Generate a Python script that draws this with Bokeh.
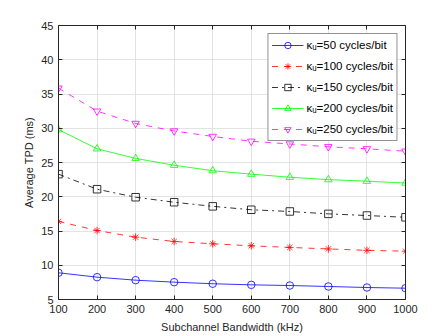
from bokeh.plotting import figure
from bokeh.embed import file_html
from bokeh.resources import INLINE
from bokeh.models import LinearAxis, Legend, LegendItem, FixedTicker, Range1d

bandwidth = [100, 200, 300, 400, 500, 600, 700, 800, 900, 1000]
k50 = [8.9, 8.26, 7.82, 7.53, 7.3, 7.14, 7.04, 6.9, 6.75, 6.65]
k100 = [16.4, 15.07, 14.1, 13.47, 13.13, 12.84, 12.6, 12.38, 12.18, 12.05]
k150 = [23.3, 21.1, 19.93, 19.2, 18.6, 18.1, 17.85, 17.5, 17.26, 17.0]
k200 = [29.8, 27.0, 25.6, 24.6, 23.8, 23.3, 22.85, 22.5, 22.27, 22.0]
k250 = [35.85, 32.5, 30.7, 29.6, 28.8, 28.1, 27.7, 27.3, 27.0, 26.65]
labels = ["κᵤ=50 cycles/bit", "κᵤ=100 cycles/bit", "κᵤ=150 cycles/bit",
          "κᵤ=200 cycles/bit", "κᵤ=250 cycles/bit"]
x_ticks = bandwidth
y_ticks = [5, 10, 15, 20, 25, 30, 35, 40, 45]

FONT = "Liberation Sans"
TXT = "#262626"

p = figure(width=448, height=336, output_backend="svg", toolbar_location=None,
           x_range=Range1d(100, 1000), y_range=Range1d(5, 45),
           min_border_left=58, min_border_right=43, min_border_top=25, min_border_bottom=37)
p.background_fill_color = "white"
p.border_fill_color = "white"
p.outline_line_color = None

p.xaxis.axis_label = "Subchannel Bandwidth (kHz)"
p.yaxis.axis_label = "Average TPD (ms)"
for ax in (p.xaxis[0], p.yaxis[0]):
    ax.axis_label_text_font = FONT
    ax.axis_label_text_font_style = "normal"
    ax.axis_label_text_font_size = "11px"
    ax.axis_label_text_color = TXT
    ax.major_label_text_font = FONT
    ax.major_label_text_font_size = "11px"
    ax.major_label_text_color = TXT
    ax.axis_line_color = TXT
    ax.major_tick_line_color = TXT
    ax.major_tick_in = 4
    ax.major_tick_out = 0
    ax.minor_tick_line_color = None
p.xaxis.ticker = FixedTicker(ticks=x_ticks)
p.yaxis.ticker = FixedTicker(ticks=y_ticks)
p.xaxis.axis_label_standoff = 5
p.yaxis.axis_label_standoff = 3
p.xaxis.major_label_standoff = 5
p.yaxis.major_label_standoff = 5

for loc, tk in (("right", y_ticks), ("above", x_ticks)):
    ax = LinearAxis(ticker=FixedTicker(ticks=tk))
    ax.major_label_text_font_size = "0px"
    ax.major_label_text_color = None
    ax.axis_line_color = TXT
    ax.major_tick_line_color = TXT
    ax.major_tick_in = 4
    ax.major_tick_out = 0
    ax.minor_tick_line_color = None
    ax.major_label_standoff = 0
    p.add_layout(ax, loc)

p.xgrid.ticker = FixedTicker(ticks=x_ticks)
p.ygrid.ticker = FixedTicker(ticks=y_ticks)
p.grid.grid_line_color = "#dcdcdc"
p.grid.grid_line_alpha = 0.8

items = []
specs = [
    (k50, "#0000ff", "solid", "circle"),
    (k100, "#ff0000", "dashed", "asterisk"),
    (k150, "#000000", "dashdot", "square"),
    (k200, "#00ff00", "solid", "triangle"),
    (k250, "#ff00ff", "dashed", "inverted_triangle"),
]
for (ys, col, dash, mk), lab in zip(specs, labels):
    l = p.line(bandwidth, ys, line_color=col, line_width=0.8, line_dash=dash)
    s = p.scatter(bandwidth, ys, marker=mk, size=7.5, line_color=col, fill_color=None, line_width=0.8)
    items.append(LegendItem(label=lab, renderers=[l, s]))

leg = Legend(items=items, location="top_right")
leg.label_text_font = FONT
leg.label_text_font_size = "11.5px"
leg.label_text_color = "#000000"
leg.border_line_color = TXT
leg.border_line_width = 1
leg.background_fill_color = "white"
leg.background_fill_alpha = 1
leg.glyph_width = 32
leg.glyph_height = 16
leg.spacing = 5
leg.padding = 3
leg.margin = 8
leg.label_standoff = 3
leg.label_height = 16
p.add_layout(leg)

open("out.html", "w").write(file_html(p, INLINE))
